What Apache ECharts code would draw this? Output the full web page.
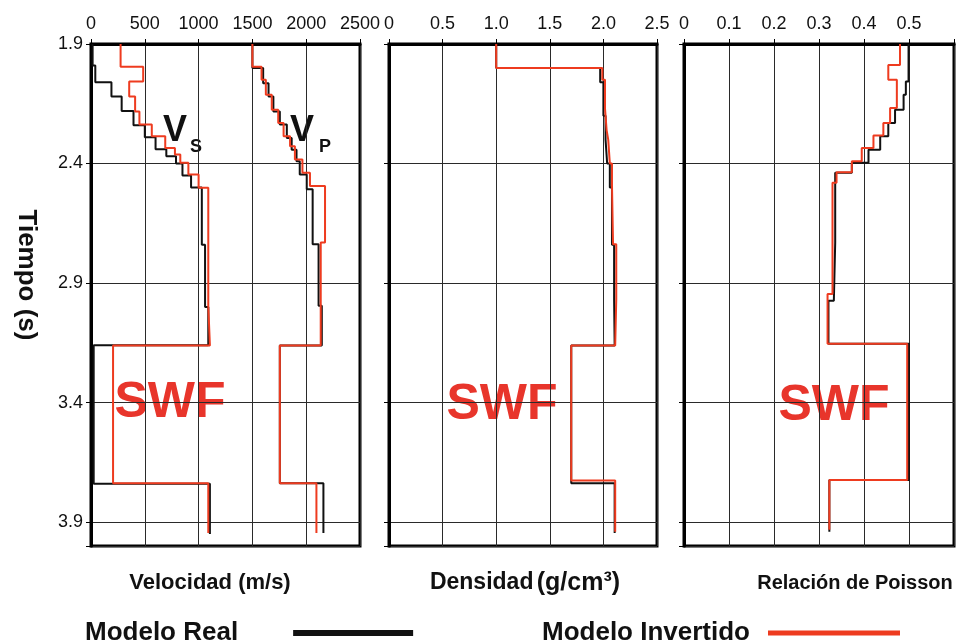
<!DOCTYPE html>
<html><head><meta charset="utf-8">
<script src="https://cdn.jsdelivr.net/npm/echarts@6/dist/echarts.min.js"></script>
<style>html,body{margin:0;padding:0;background:#fff}#c{width:958px;height:644px}</style>
</head><body><div id="c"></div>
<script>
// ---- Data (time in s, layer boundaries; values per layer) ----
const T0 = 1.9;
const timeTickLabels = ['1.9', '2.4', '2.9', '3.4', '3.9'];

const vsRealTimes = [1.90, 1.99, 2.06, 2.12, 2.18, 2.24, 2.29, 2.34, 2.37, 2.40, 2.45, 2.50, 2.74, 3.00, 3.16, 3.74, 3.95];
const vsRealVals  = [15, 40, 190, 285, 395, 500, 600, 700, 790, 850, 930, 1030, 1060, 1090, 25, 1105];
const vsInvTimes  = [1.90, 1.995, 2.057, 2.12, 2.182, 2.237, 2.286, 2.335, 2.362, 2.397, 2.446, 2.501, 2.995, 3.161, 3.7375, 3.946];
const vsInvVals   = [275, 485, 355, 410, 450, 565, 690, 780, 830, 905, 1000, 1090, 1105, 205, 1090];

const vpRealTimes = [1.90, 2.00, 2.064, 2.12, 2.182, 2.237, 2.293, 2.342, 2.39, 2.446, 2.508, 2.7375, 2.995, 3.161, 3.7375, 3.946];
const vpRealVals  = [1500, 1600, 1650, 1695, 1755, 1820, 1865, 1910, 1940, 2005, 2060, 2115, 2145, 1755, 2160];
const vpInvTimes  = [1.90, 1.995, 2.05, 2.1125, 2.175, 2.23, 2.286, 2.328, 2.383, 2.439, 2.494, 2.73, 3.161, 3.7375, 3.946];
const vpInvVals   = [1500, 1585, 1625, 1680, 1740, 1790, 1850, 1895, 1965, 2035, 2175, 2135, 1755, 2095];

const rhoRealTimes = [1.90, 2.00, 2.06, 2.20, 2.30, 2.40, 2.50, 2.74, 2.97, 3.161, 3.7375, 3.946];
const rhoRealVals  = [1.0, 1.97, 2.0, 2.02, 2.035, 2.06, 2.08, 2.1, 2.105, 1.70, 2.105];
const rhoInvTimes  = [1.90, 2.00, 2.05, 2.17, 2.26, 2.30, 2.40, 2.49, 2.7375, 2.967, 3.161, 3.726, 3.94];
const rhoInvVals   = [1.0, 1.99, 2.015, 2.03, 2.045, 2.06, 2.08, 2.09, 2.12, 2.11, 1.70, 2.11];

const nuRealTimes = [1.90, 2.057, 2.1125, 2.175, 2.23, 2.286, 2.342, 2.397, 2.439, 2.73, 2.974, 3.154, 3.724, 3.94];
const nuRealVals  = [0.499, 0.493, 0.488, 0.469, 0.454, 0.436, 0.41, 0.373, 0.336, 0.333, 0.321, 0.5, 0.323];
const nuInvTimes  = [1.90, 1.9875, 2.05, 2.168, 2.23, 2.283, 2.335, 2.39, 2.436, 2.48, 2.946, 3.154, 3.724, 3.932];
const nuInvVals   = [0.48, 0.454, 0.473, 0.458, 0.443, 0.421, 0.395, 0.373, 0.339, 0.33, 0.319, 0.496, 0.323];

const panelTitles = ['Velocidad (m/s)', 'Densidad', 'Relación de Poisson'];
const legendNames = ['Modelo Real', 'Modelo Invertido'];

// ---- Build ----
const FONT = '"Liberation Sans", Arial, sans-serif';
const BLACK = '#111111', RED = '#ee3b1f', SWF = '#e8352b';

function steps(times, vals) {
  const pts = [];
  for (let i = 0; i < vals.length; i++) {
    pts.push([vals[i], times[i] - T0]);
    pts.push([vals[i], times[i + 1] - T0]);
  }
  return pts;
}

const grids = [
  {left: 91, right: 598, top: 44, bottom: 98},
  {left: 389, right: 301, top: 44, bottom: 98},
  {left: 684, right: 4, top: 44, bottom: 98}
].map(g => Object.assign(g, {show: true, borderColor: '#000', borderWidth: 3, containLabel: false}));

function xAx(idx, max, interval, fmt) {
  return {
    type: 'value', gridIndex: idx, position: 'top', min: 0, max: max, interval: interval,
    axisLine: {show: true, lineStyle: {color: '#000', width: 3}},
    axisTick: {show: true, inside: false, length: 5, lineStyle: {color: '#000', width: 1}},
    axisLabel: {show: true, fontSize: 18, fontFamily: FONT, color: '#111', margin: 11, formatter: fmt},
    splitLine: {show: true, lineStyle: {color: '#2a2a2a', width: 1}}
  };
}
function yAx(idx, showLabel) {
  return {
    type: 'value', gridIndex: idx, inverse: true, min: 0, max: 2.1, interval: 0.5,
    axisLine: {show: true, lineStyle: {color: '#000', width: 3}},
    axisTick: {show: true, inside: false, length: 5, lineStyle: {color: '#000', width: 1}},
    axisLabel: {show: showLabel, fontSize: 18, fontFamily: FONT, color: '#111', margin: 8,
      formatter: v => { const i = Math.round(v / 0.5); return (Math.abs(v - i * 0.5) < 1e-6 && i < timeTickLabels.length) ? timeTickLabels[i] : ''; }},
    splitLine: {show: true, lineStyle: {color: '#2a2a2a', width: 1}}
  };
}

function line(name, idx, data, color) {
  return {
    type: 'line', name: name, xAxisIndex: idx, yAxisIndex: idx, data: data,
    showSymbol: false, symbol: 'none', silent: true, animation: false,
    lineStyle: {color: color, width: 2}, itemStyle: {color: color}
  };
}

const series = [
  line(legendNames[0], 0, steps(vsRealTimes, vsRealVals), BLACK),
  line(legendNames[0], 0, steps(vpRealTimes, vpRealVals), BLACK),
  line(legendNames[0], 1, steps(rhoRealTimes, rhoRealVals), BLACK),
  line(legendNames[0], 2, steps(nuRealTimes, nuRealVals), BLACK),
  line(legendNames[1], 0, steps(vsInvTimes, vsInvVals), RED),
  line(legendNames[1], 0, steps(vpInvTimes, vpInvVals), RED),
  line(legendNames[1], 1, steps(rhoInvTimes, rhoInvVals), RED),
  line(legendNames[1], 2, steps(nuInvTimes, nuInvVals), RED)
];

const legendText = {fontSize: 26, fontWeight: 'bold', fontFamily: FONT, color: '#111'};

function txt(x, y, text, size, color, extra) {
  return Object.assign({
    type: 'text', x: x, y: y, silent: true,
    style: {text: text, fontSize: size, fontWeight: 'bold', fontFamily: FONT, fill: color, align: 'center', verticalAlign: 'middle'}
  }, extra || {});
}

const option = {
  animation: false,
  backgroundColor: '#fff',
  grid: grids,
  xAxis: [
    xAx(0, 2500, 500, v => String(v)),
    xAx(1, 2.5, 0.5, v => v === 0 ? '0' : v.toFixed(1)),
    xAx(2, 0.6, 0.1, v => v === 0 ? '0' : (v > 0.55 ? '' : v.toFixed(1)))
  ],
  yAxis: [yAx(0, true), yAx(1, false), yAx(2, false)],
  legend: [
    {data: [legendNames[0]], left: 80, top: 615, align: 'right', icon: 'rect', itemWidth: 120, itemHeight: 6,
     selectedMode: false, textStyle: Object.assign({padding: [0, 50, 0, 0]}, legendText)},
    {data: [legendNames[1]], left: 537, top: 615, align: 'right', icon: 'rect', itemWidth: 132, itemHeight: 5,
     selectedMode: false, textStyle: Object.assign({padding: [0, 13, 0, 0]}, legendText)}
  ],
  graphic: [
    txt(26, 275, 'Tiempo (s)', 26, '#111', {rotation: -Math.PI / 2}),
    txt(175, 131, 'V', 36, '#111'),
    txt(196, 147, 'S', 18, '#111'),
    txt(302, 131, 'V', 36, '#111'),
    txt(325, 147, 'P', 18, '#111'),
    txt(170, 403, 'SWF', 50, SWF),
    txt(502, 405, 'SWF', 50, SWF),
    txt(834, 406, 'SWF', 50, SWF),
    txt(210, 583, panelTitles[0], 22, '#111'),
    {type: 'text', x: 525, y: 583, silent: true,
     style: {text: '{a|' + panelTitles[1] + '} {b|(g/cm³)}', align: 'center', verticalAlign: 'middle',
       rich: {a: {fontSize: 23, fontWeight: 'bold', fontFamily: FONT, fill: '#111'},
              b: {fontSize: 25, fontWeight: 'bold', fontFamily: FONT, fill: '#111'}}}},
    txt(855, 583, panelTitles[2], 20, '#111')
  ],
  series: series
};

const chart = echarts.init(document.getElementById('c'), null, {renderer: 'canvas'});
chart.setOption(option);
</script>
</body></html>
